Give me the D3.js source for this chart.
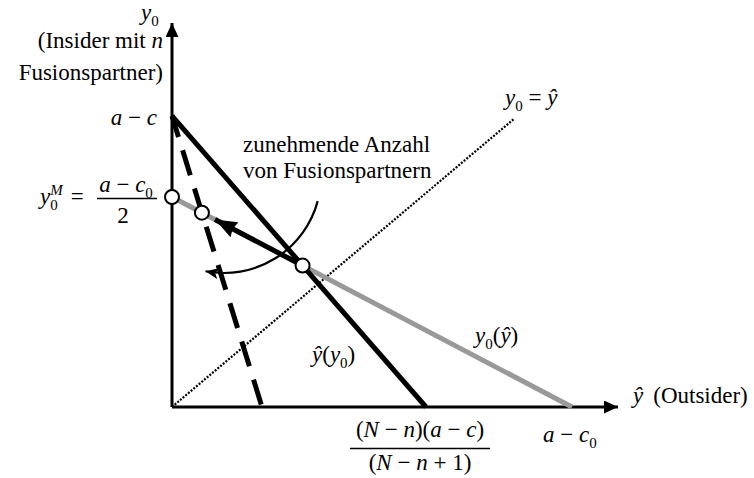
<!DOCTYPE html>
<html>
<head>
<meta charset="utf-8">
<script src="https://cdn.jsdelivr.net/npm/d3@7"></script>
<style>
  html, body { margin: 0; padding: 0; background: #fff; }
  text { font-family: "Liberation Serif", "DejaVu Serif", "Times New Roman", serif; }
</style>
</head>
<body>
<svg id="chart" width="754" height="478"></svg>
<script>
// ---- Model quantities (output units) ----
const aMinusC0 = 10;                         // ŷ-intercept of y0(ŷ): a − c0
const monopolyOutput = aMinusC0 / 2;         // y0^M = (a − c0)/2
const aMinusC = 6.93;                        // y0-intercept of ŷ(y0): a − c
const reactionIntercepts = [6.35, 2.25];     // ŷ(y0) on the ŷ-axis: n partners, more partners
const axisLimits = [11.15, 9.14];            // extent of ŷ and y0 axes
const diagonalEnd = [8.55, 6.86];            // end of the y0 = ŷ guide line
const arrowShare = 0.87;                     // how far the shift arrow runs between equilibria

const serif = "Liberation Serif, DejaVu Serif, Times New Roman, serif";
const svg = d3.select("#chart");
const x = d3.scaleLinear().domain([0, 10]).range([172, 572]);
const y = d3.scaleLinear().domain([0, 5]).range([407, 197]);

// Linear curves given by their two intercepts: y = b (1 − x / a)
const lineThrough = (a, b) => [[0, b], [a, 0]];
function meet(a1, b1, a2, b2) {
  const xi = (b2 - b1) / (b2 / a2 - b1 / a1);
  return [xi, b1 * (1 - xi / a1)];
}

const grayCurve = lineThrough(aMinusC0, monopolyOutput);
const blackCurve = lineThrough(reactionIntercepts[0], aMinusC);
const dashedCurve = lineThrough(reactionIntercepts[1], aMinusC);

const eqN = meet(aMinusC0, monopolyOutput, reactionIntercepts[0], aMinusC);
const eqMore = meet(aMinusC0, monopolyOutput, reactionIntercepts[1], aMinusC);
const points = [[0, monopolyOutput], eqMore, eqN];

const line = d3.line().x(d => x(d[0])).y(d => y(d[1]));

// ---- Markers ----
const defs = svg.append("defs");
function marker(id, len, wid, notch) {
  defs.append("marker")
    .attr("id", id)
    .attr("viewBox", `0 0 ${len} ${wid}`)
    .attr("refX", len).attr("refY", wid / 2)
    .attr("markerWidth", len).attr("markerHeight", wid)
    .attr("markerUnits", "userSpaceOnUse")
    .attr("orient", "auto")
    .append("path")
    .attr("d", `M0,0 L${len},${wid / 2} L0,${wid} L${notch || 0},${wid / 2} Z`)
    .attr("fill", "#000");
}
marker("axisHead", 14, 13);
marker("bigHead", 22, 17, 2);
marker("smallHead", 13, 11, 3);

// ---- Axes ----
svg.append("path")
  .attr("d", line([[0, 0], [0, axisLimits[1]]]))
  .attr("stroke", "#000").attr("stroke-width", 3).attr("fill", "none")
  .attr("marker-end", "url(#axisHead)");
svg.append("path")
  .attr("d", line([[0, 0], [axisLimits[0], 0]]))
  .attr("stroke", "#000").attr("stroke-width", 3).attr("fill", "none")
  .attr("marker-end", "url(#axisHead)");

// ---- Curves ----
svg.append("path")
  .attr("d", line([[0, 0], diagonalEnd]))
  .attr("stroke", "#000").attr("stroke-width", 2.2)
  .attr("stroke-dasharray", "2,1.5").attr("fill", "none");

svg.append("path")
  .attr("d", line(grayCurve))
  .attr("stroke", "#999").attr("stroke-width", 5).attr("fill", "none");

svg.append("path")
  .attr("d", line(blackCurve))
  .attr("stroke", "#000").attr("stroke-width", 5).attr("fill", "none");

svg.append("path")
  .attr("d", line(dashedCurve))
  .attr("stroke", "#000").attr("stroke-width", 5)
  .attr("stroke-dasharray", "26,14").attr("stroke-dashoffset", 4)
  .attr("fill", "none");

// Shift of the equilibrium along y0(ŷ)
const arrowTip = [eqN[0] + (eqMore[0] - eqN[0]) * arrowShare,
                  eqN[1] + (eqMore[1] - eqN[1]) * arrowShare];
svg.append("path")
  .attr("d", line([eqN, arrowTip]))
  .attr("stroke", "#000").attr("stroke-width", 5).attr("fill", "none")
  .attr("marker-end", "url(#bigHead)");

// Rotation arrow: reaction curve turns with more partners
const arcCentre = [x(1.3), y(5.5)];
const arcR = 97;
const angA = 15 * Math.PI / 180, angB = 101 * Math.PI / 180;
const arcStart = [arcCentre[0] + arcR * Math.cos(angA), arcCentre[1] + arcR * Math.sin(angA)];
const arcEnd = [arcCentre[0] + arcR * Math.cos(angB), arcCentre[1] + arcR * Math.sin(angB)];
svg.append("path")
  .attr("d", `M${arcStart} A${arcR},${arcR} 0 0 1 ${arcEnd}`)
  .attr("stroke", "#000").attr("stroke-width", 2.2).attr("fill", "none")
  .attr("marker-end", "url(#smallHead)");

// Equilibrium points
svg.selectAll("circle.pt")
  .data(points)
  .join("circle")
  .attr("class", "pt")
  .attr("cx", d => x(d[0])).attr("cy", d => y(d[1]))
  .attr("r", 7)
  .attr("fill", "#fff").attr("stroke", "#000").attr("stroke-width", 2);

// ---- Text ----
function rich(px, py, parts, anchor, size) {
  const fs = size || 23;
  const t = svg.append("text")
    .attr("x", px).attr("y", py)
    .attr("font-family", serif)
    .attr("font-size", fs)
    .attr("text-anchor", anchor || "start")
    .attr("fill", "#000");
  let shift = 0;
  parts.forEach(p => {
    const [s, kind, dx] = p;
    const sp = t.append("tspan").text(s).attr("font-family", serif);
    let target = 0;
    if (kind === "sub") target = 6;
    else if (kind === "sup") target = -9;
    if (target !== shift) { sp.attr("dy", target - shift); shift = target; }
    if (kind === "i") sp.attr("font-style", "italic");
    if (kind === "sub" || kind === "sup") sp.attr("font-size", 15);
    if (kind === "sup") sp.attr("font-style", "italic");
    if (dx) sp.attr("dx", dx);
  });
  return t;
}

// y-axis title
rich(141, 20, [["y", "i"], ["0", "sub"]]);
rich(163, 48, [["(Insider mit ", "r"], ["n", "i"]], "end");
rich(163, 80, [["Fusionspartner)", "r"]], "end");

// a − c
rich(157, 125, [["a", "i"], [" − ", "r"], ["c", "i"]], "end");

// y0^M = (a − c0)/2
rich(40, 204, [["y", "i"], ["0", "sub"], ["M", "sup", -7.5], ["=", "r", 8]]);
rich(126, 192, [["a", "i"], [" − ", "r"], ["c", "i"], ["0", "sub"]], "middle");
svg.append("line")
  .attr("x1", 97).attr("x2", 157).attr("y1", 198.5).attr("y2", 198.5)
  .attr("stroke", "#000").attr("stroke-width", 1.3);
rich(123, 223, [["2", "r"]], "middle");

// Annotation
rich(243, 152, [["zunehmende Anzahl", "r"]]);
rich(243, 178, [["von Fusionspartnern", "r"]]);

// Curve labels
rich(505, 105, [["y", "i"], ["0", "sub"], [" = ", "r"], ["ŷ", "i"]]);
rich(312, 362, [["ŷ", "i"], ["(", "r"], ["y", "i"], ["0", "sub"], [")", "r"]]);
rich(475, 343, [["y", "i"], ["0", "sub"], ["(", "r"], ["ŷ", "i"], [")", "r"]]);

// x-axis title
rich(633, 403, [["ŷ", "i"], ["(Outsider)", "r", 10]]);

// Intercepts on the ŷ-axis
rich(543, 442, [["a", "i"], [" − ", "r"], ["c", "i"], ["0", "sub"]]);
rich(x(reactionIntercepts[0]) - 6, 437,
  [["(", "r"], ["N", "i"], [" − ", "r"], ["n", "i"], [")(", "r"], ["a", "i"], [" − ", "r"], ["c", "i"], [")", "r"]],
  "middle");
svg.append("line")
  .attr("x1", 350).attr("x2", 490).attr("y1", 448.5).attr("y2", 448.5)
  .attr("stroke", "#000").attr("stroke-width", 1.3);
rich(x(reactionIntercepts[0]) - 6, 470,
  [["(", "r"], ["N", "i"], [" − ", "r"], ["n", "i"], [" + 1)", "r"]],
  "middle");
</script>
</body>
</html>
